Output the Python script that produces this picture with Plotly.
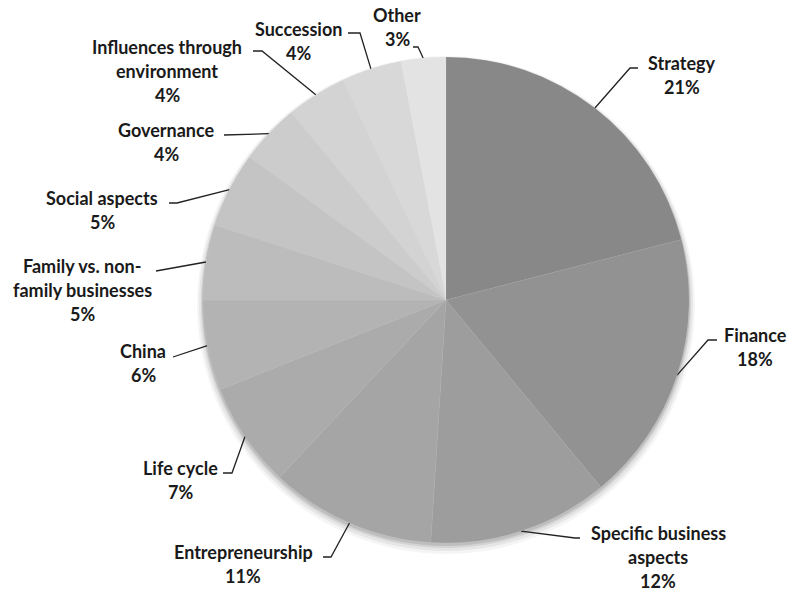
import math
import plotly.graph_objects as go

# Share of publications by research topic (percent)
topics = [
    "Strategy", "Finance", "Specific business aspects", "Entrepreneurship",
    "Life cycle", "China", "Family vs. non-family businesses", "Social aspects",
    "Governance", "Influences through environment", "Succession", "Other",
]
shares = [21, 18, 12, 11, 7, 6, 5, 5, 4, 4, 4, 3]

# Label text lines (as printed next to the pie)
label_lines = [
    ["Strategy"], ["Finance"], ["Specific business", "aspects"], ["Entrepreneurship"],
    ["Life cycle"], ["China"], ["Family vs. non-", "family businesses"], ["Social aspects"],
    ["Governance"], ["Influences through", "environment"], ["Succession"], ["Other"],
]
slice_colors = [
    "#888888", "#929292", "#9d9d9d", "#a5a5a5", "#ababab", "#b3b3b3",
    "#bcbcbc", "#c4c4c4", "#cccccc", "#d3d3d3", "#d8d8d8", "#e3e3e3",
]

W, H = 790, 592
CX, CY, R = 446, 300, 243          # pie centre and radius in pixels
LINE_GAP = 24                      # spacing between label lines

# Label block centres and leader-line start / elbow points (pixel layout)
label_pos = [
    (682, 75), (755, 347), (658, 557), (243, 564), (180, 480), (143, 363),
    (82, 290), (102, 210), (166, 142), (167, 71), (298, 41), (397, 27),
]
leader_start = [
    (638, 68), (717, 340), (580, 538), (323, 557), (223, 473), (173, 357),
    (156, 271), (169, 203), (224, 135), (253, 51), (348, 33), (413, 47),
]
leader_elbow = [
    (630, 68), (708, 340), (575, 538), (331, 557), (232, 473), None,
    None, (177, 203), None, (262, 51), (360, 33), (418, 47),
]

fig = go.Figure()

# soft drop shadow behind the pie
for grow, dy, op in [(6, 5, 0.04), (4, 4, 0.06), (2, 3, 0.08), (1, 2, 0.10)]:
    fig.add_shape(
        type="circle", xref="x", yref="y", layer="below",
        x0=CX - R - grow, x1=CX + R + grow,
        y0=CY - R - grow + dy, y1=CY + R + grow + dy,
        fillcolor=f"rgba(0,0,0,{op})", line=dict(width=0),
    )

fig.add_trace(go.Pie(
    labels=topics, values=shares, sort=False, direction="clockwise", rotation=0,
    marker=dict(colors=slice_colors, line=dict(color="rgba(255,255,255,0.12)", width=0.5)),
    textinfo="none", showlegend=False,
    domain=dict(x=[(CX - R) / W, (CX + R) / W],
                y=[(H - CY - R) / H, (H - CY + R) / H]),
))

total = sum(shares)
cum = 0
for i, v in enumerate(shares):
    mid = (cum + v / 2) / total * 2 * math.pi
    cum += v
    ax_, ay_ = CX + R * math.sin(mid), CY - R * math.cos(mid)
    pts = [leader_start[i]]
    if leader_elbow[i] is not None:
        pts.append(leader_elbow[i])
    pts.append((ax_, ay_))
    fig.add_trace(go.Scatter(
        x=[p[0] for p in pts], y=[p[1] for p in pts], mode="lines",
        line=dict(color="#222222", width=1.3), hoverinfo="skip", showlegend=False,
    ))
    lines = label_lines[i] + [f"{v}%"]
    lx, ly = label_pos[i]
    n = len(lines)
    for k, t in enumerate(lines):
        fig.add_annotation(
            x=lx, y=ly + (k - (n - 1) / 2) * LINE_GAP, xref="x", yref="y",
            text=t, showarrow=False, xanchor="center", yanchor="middle",
            font=dict(family="Lato", size=18, color="#1a1a1a", weight="bold"),
        )

fig.update_xaxes(range=[0, W], visible=False, fixedrange=True)
fig.update_yaxes(range=[H, 0], visible=False, fixedrange=True)
fig.update_layout(
    width=W, height=H, margin=dict(l=0, r=0, t=0, b=0),
    paper_bgcolor="white", plot_bgcolor="white",
    xaxis=dict(domain=[0, 1]), yaxis=dict(domain=[0, 1]),
)

fig.write_html("out.html")
